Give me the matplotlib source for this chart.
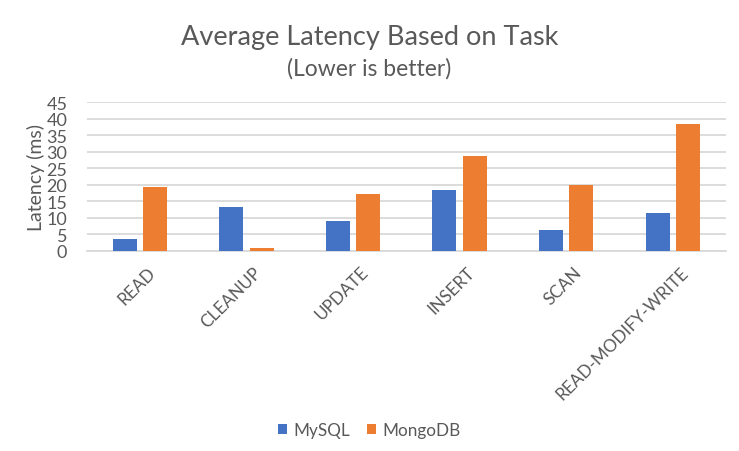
import matplotlib
matplotlib.use("Agg")
import matplotlib.pyplot as plt
import matplotlib.transforms as mtransforms
import numpy as np

categories = ["READ", "CLEANUP", "UPDATE", "INSERT", "SCAN", "READ-MODIFY-WRITE"]
mysql = [3.5, 13.2, 9.1, 18.3, 6.2, 11.4]
mongodb = [19.4, 0.8, 17.1, 28.8, 20.0, 38.4]
yticks = [0, 5, 10, 15, 20, 25, 30, 35, 40, 45]

plt.rcParams['font.family'] = ['Lato', 'DejaVu Sans']
TXT = '#595959'
C1 = '#4472C4'
C2 = '#ED7D31'

fig = plt.figure(figsize=(7.39, 4.52), dpi=100)
ax = fig.add_axes([86.7/739, 1-251.7/452, (726-86.7)/739, (251.7-103.3)/452])

x = np.arange(len(categories))
w = 0.225
off = 0.1425
ax.bar(x - off, mysql, w, color=C1, label='MySQL', zorder=3)
ax.bar(x + off, mongodb, w, color=C2, label='MongoDB', zorder=3)

ax.set_xlim(-0.5, len(categories) - 0.5)
ax.set_ylim(0, 45)
ax.set_yticks(yticks)
ax.yaxis.grid(True, color='#D9D9D9', linewidth=1.3, zorder=0)
ax.set_axisbelow(True)
for s in ['top', 'right', 'left']:
    ax.spines[s].set_visible(False)
ax.spines['bottom'].set_color('#D9D9D9')
ax.spines['bottom'].set_linewidth(1.3)
ax.tick_params(axis='both', length=0, colors=TXT, labelsize=13)
ax.tick_params(axis='y', pad=14)
ax.set_xticks(x)
ax.set_xticklabels(categories, rotation=45, ha='right', rotation_mode='anchor', fontsize=12.3)
for lab in ax.get_xticklabels():
    lab.set_transform(lab.get_transform() + mtransforms.ScaledTranslation(7/100, -8/100, fig.dpi_scale_trans))

ax.set_ylabel('Latency (ms)', fontsize=14, color=TXT, labelpad=1)

fig.text(0.5, 1-37/452, 'Average Latency Based on Task', ha='center', va='center', fontsize=19.5, color=TXT)
fig.text(0.5, 1-69/452, '(Lower is better)', ha='center', va='center', fontsize=16.5, color=TXT)

leg = fig.legend(loc='center', bbox_to_anchor=(0.5, 1-431/452), ncol=2, frameon=False,
                 fontsize=12.3, handlelength=0.5, handleheight=0.5, handletextpad=0.4, columnspacing=1.0)
for t in leg.get_texts():
    t.set_color(TXT)

fig.savefig('out.png', dpi=100)
